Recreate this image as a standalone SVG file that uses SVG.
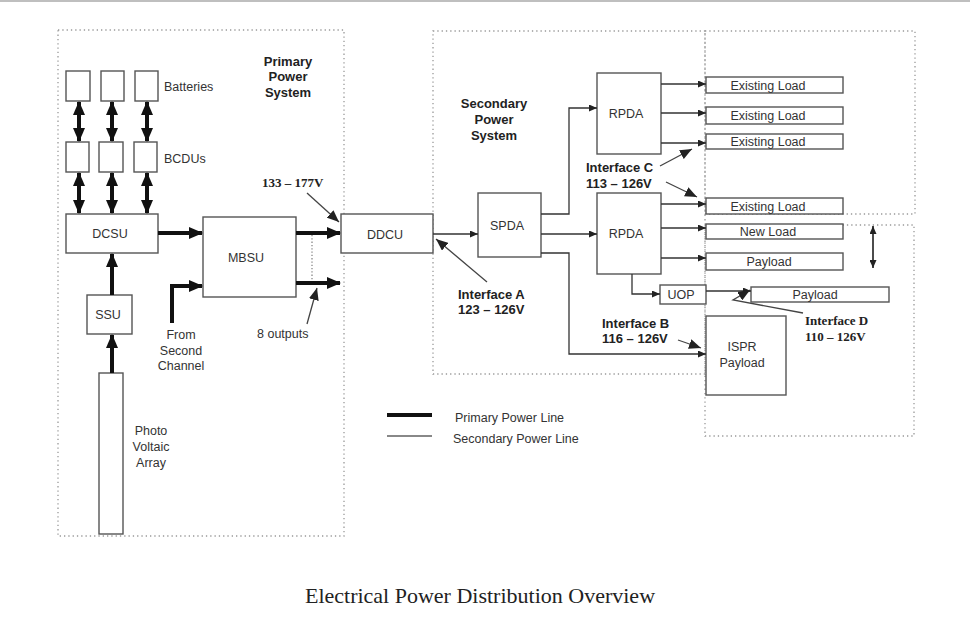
<svg xmlns="http://www.w3.org/2000/svg" width="970" height="631" viewBox="0 0 970 631">
<defs>
<marker id="thick" viewBox="0 0 14 12" markerWidth="14" markerHeight="12" refX="13" refY="6" markerUnits="userSpaceOnUse" orient="auto-start-reverse"><path d="M0,0 L14,6 L0,12 z" fill="#111"/></marker>
<marker id="thin" viewBox="0 0 8 7" markerWidth="8" markerHeight="7" refX="8" refY="3.5" markerUnits="userSpaceOnUse" orient="auto-start-reverse"><path d="M0,0 L8,3.5 L0,7 z" fill="#222"/></marker>
<marker id="lead" viewBox="0 0 12 10" markerWidth="12" markerHeight="10" refX="12" refY="5" markerUnits="userSpaceOnUse" orient="auto"><path d="M0,0 L12,5 L0,10 z" fill="#222"/></marker>
</defs>
<style>
.box{fill:#fff;stroke:#555;stroke-width:1.4}
.zone{fill:none;stroke:#999;stroke-width:1.3;stroke-dasharray:1.3 3}
.t{font-family:"Liberation Sans",Arial,sans-serif;font-size:12.5px;fill:#333}
.b{font-family:"Liberation Sans",Arial,sans-serif;font-size:13px;font-weight:bold;fill:#222}
.s{font-family:"Liberation Serif","Times New Roman",serif;font-size:13px;font-weight:bold;fill:#222}
.m{text-anchor:middle}
.pri{fill:none;stroke:#111;stroke-width:4}
.sec{fill:none;stroke:#333;stroke-width:1.3}
.ld{fill:none;stroke:#444;stroke-width:1.3}
</style>
<rect width="970" height="631" fill="#fff"/>
<line x1="0" y1="1" x2="970" y2="1" stroke="#aaa" stroke-width="1.5"/>

<g id="zones">
<rect class="zone" x="58" y="30" width="286" height="506"/>
<rect class="zone" x="433" y="31" width="272" height="343"/>
<rect class="zone" x="705" y="31" width="210" height="183"/>
<rect class="zone" x="705" y="225" width="209" height="211"/>
</g>

<g id="labels">
<text class="b m" x="288" y="66">Primary</text>
<text class="b m" x="288" y="81">Power</text>
<text class="b m" x="288" y="97">System</text>
<text class="b m" x="494" y="108">Secondary</text>
<text class="b m" x="494" y="124">Power</text>
<text class="b m" x="494" y="140">System</text>
<text class="s" x="262" y="187">133 – 177V</text>
<text class="t" x="257" y="338">8 outputs</text>
<text class="b" x="458" y="299">Interface A</text>
<text class="b" x="458" y="314">123 – 126V</text>
<text class="b" x="586" y="172">Interface C</text>
<text class="b" x="586" y="188">113 – 126V</text>
<text class="b" x="602" y="328">Interface B</text>
<text class="b" x="602" y="343">116 – 126V</text>
<text class="s" x="805" y="325">Interface D</text>
<text class="s" x="805" y="341">110 – 126V</text>
</g>

<g id="batteries">
<rect class="box" x="66" y="71" width="24" height="30"/>
<rect class="box" x="101" y="71" width="23" height="30"/>
<rect class="box" x="135" y="71" width="23" height="30"/>
<text class="t" x="164" y="91">Batteries</text>
</g>
<g id="bcdus">
<rect class="box" x="66" y="142" width="23" height="30"/>
<rect class="box" x="99" y="142" width="24" height="30"/>
<rect class="box" x="134" y="142" width="23" height="30"/>
<text class="t" x="164" y="163">BCDUs</text>
</g>
<g id="dcsu"><rect class="box" x="66" y="214" width="92" height="39"/><text class="t m" x="110" y="238">DCSU</text></g>
<g id="mbsu"><rect class="box" x="203" y="217" width="93" height="80"/><text class="t m" x="246" y="262">MBSU</text></g>
<g id="ssu"><rect class="box" x="87" y="295" width="45" height="39"/><text class="t m" x="108" y="319">SSU</text></g>
<g id="pv"><rect class="box" x="99" y="373" width="24" height="161"/>
<text class="t m" x="151" y="435">Photo</text><text class="t m" x="151" y="451">Voltaic</text><text class="t m" x="151" y="467">Array</text></g>
<g id="second-channel"><text class="t m" x="181" y="339">From</text><text class="t m" x="181" y="355">Second</text><text class="t m" x="181" y="370">Channel</text></g>
<g id="ddcu"><rect class="box" x="341" y="214" width="92" height="39"/><text class="t m" x="385" y="239">DDCU</text></g>
<g id="spda"><rect class="box" x="478" y="193" width="63" height="64"/><text class="t m" x="507" y="230">SPDA</text></g>
<g id="rpda1"><rect class="box" x="597" y="73" width="64" height="81"/><text class="t m" x="626" y="118">RPDA</text></g>
<g id="rpda2"><rect class="box" x="597" y="193" width="64" height="81"/><text class="t m" x="626" y="238">RPDA</text></g>
<g id="uop"><rect class="box" x="660" y="285" width="46" height="19"/><text class="t m" x="681" y="299">UOP</text></g>
<g id="load1"><rect class="box" x="706" y="77" width="137" height="16"/><text class="t m" x="768" y="90">Existing Load</text></g>
<g id="load2"><rect class="box" x="706" y="107" width="137" height="17"/><text class="t m" x="768" y="120">Existing Load</text></g>
<g id="load3"><rect class="box" x="706" y="134" width="137" height="15"/><text class="t m" x="768" y="146">Existing Load</text></g>
<g id="load4"><rect class="box" x="706" y="198" width="137" height="16"/><text class="t m" x="768" y="211">Existing Load</text></g>
<g id="newload"><rect class="box" x="706" y="224" width="137" height="15"/><text class="t m" x="768" y="236">New Load</text></g>
<g id="payload1"><rect class="box" x="706" y="253" width="137" height="17"/><text class="t m" x="769" y="266">Payload</text></g>
<g id="payload2"><rect class="box" x="751" y="287" width="138" height="15"/><text class="t m" x="815" y="299">Payload</text></g>
<g id="ispr"><rect class="box" x="706" y="316" width="80" height="79"/><text class="t m" x="742" y="351">ISPR</text><text class="t m" x="742" y="367">Payload</text></g>

<g id="legend">
<line x1="387" y1="415" x2="432" y2="415" stroke="#111" stroke-width="4"/>
<line x1="387" y1="436" x2="432" y2="436" stroke="#888" stroke-width="2"/>
<text class="t" x="455" y="422">Primary Power Line</text>
<text class="t" x="453" y="443">Secondary Power Line</text>
</g>

<g id="connectors">
<line class="pri" x1="79" y1="102" x2="79" y2="141" marker-start="url(#thick)" marker-end="url(#thick)"/>
<line class="pri" x1="112" y1="102" x2="112" y2="141" marker-start="url(#thick)" marker-end="url(#thick)"/>
<line class="pri" x1="147" y1="102" x2="147" y2="141" marker-start="url(#thick)" marker-end="url(#thick)"/>
<line class="pri" x1="79" y1="173" x2="79" y2="213" marker-start="url(#thick)" marker-end="url(#thick)"/>
<line class="pri" x1="112" y1="173" x2="112" y2="213" marker-start="url(#thick)" marker-end="url(#thick)"/>
<line class="pri" x1="147" y1="173" x2="147" y2="213" marker-start="url(#thick)" marker-end="url(#thick)"/>
<line class="pri" x1="158" y1="233" x2="202" y2="233" marker-end="url(#thick)"/>
<line class="pri" x1="112" y1="295" x2="112" y2="254" marker-end="url(#thick)"/>
<line class="pri" x1="112" y1="373" x2="112" y2="335" marker-end="url(#thick)"/>
<polyline class="pri" points="172,323 172,286 202,286" marker-end="url(#thick)"/>
<line class="pri" x1="296" y1="233" x2="340" y2="233" marker-end="url(#thick)"/>
<line class="pri" x1="296" y1="283" x2="340" y2="283" marker-end="url(#thick)"/>
<line x1="312" y1="235" x2="312" y2="281" stroke="#888" stroke-width="1.3" stroke-dasharray="1.3 2"/>
<line class="ld" x1="307" y1="324" x2="317" y2="288" marker-end="url(#lead)"/>
<line class="ld" x1="307" y1="193" x2="339" y2="222" marker-end="url(#lead)"/>
<line class="sec" x1="433" y1="234" x2="478" y2="234" marker-end="url(#thin)"/>
<polyline class="sec" points="541,214 569,214 569,108 597,108" marker-end="url(#thin)"/>
<line class="sec" x1="541" y1="234" x2="597" y2="234" marker-end="url(#thin)"/>
<polyline class="sec" points="541,253 569,253 569,354 706,354" marker-end="url(#thin)"/>
<line class="ld" x1="487" y1="282" x2="436" y2="239" marker-end="url(#lead)"/>
<line class="sec" x1="661" y1="84" x2="706" y2="84" marker-end="url(#thin)"/>
<line class="sec" x1="661" y1="113" x2="706" y2="113" marker-end="url(#thin)"/>
<line class="sec" x1="661" y1="143" x2="706" y2="143" marker-end="url(#thin)"/>
<line class="sec" x1="661" y1="204" x2="706" y2="204" marker-end="url(#thin)"/>
<line class="sec" x1="661" y1="228" x2="706" y2="228" marker-end="url(#thin)"/>
<line class="sec" x1="661" y1="258" x2="706" y2="258" marker-end="url(#thin)"/>
<polyline class="sec" points="632,274 632,294 660,294" marker-end="url(#thin)"/>
<line class="sec" x1="706" y1="291" x2="751" y2="291" marker-end="url(#thin)"/>
<line class="ld" x1="660" y1="166" x2="692" y2="149" marker-end="url(#lead)"/>
<line class="ld" x1="666" y1="182" x2="697" y2="197" marker-end="url(#lead)"/>
<line class="ld" x1="678" y1="340" x2="701" y2="348" marker-end="url(#lead)"/>
<polyline class="ld" points="803,313 733,300 750,290" marker-end="url(#lead)"/>
<line x1="873" y1="226" x2="873" y2="268" stroke="#111" stroke-width="1.5" marker-start="url(#thin)" marker-end="url(#thin)"/>
</g>

<text x="480" y="603" text-anchor="middle" font-family="Liberation Serif,'Times New Roman',serif" font-size="22" fill="#222">Electrical Power Distribution Overview</text>
</svg>
